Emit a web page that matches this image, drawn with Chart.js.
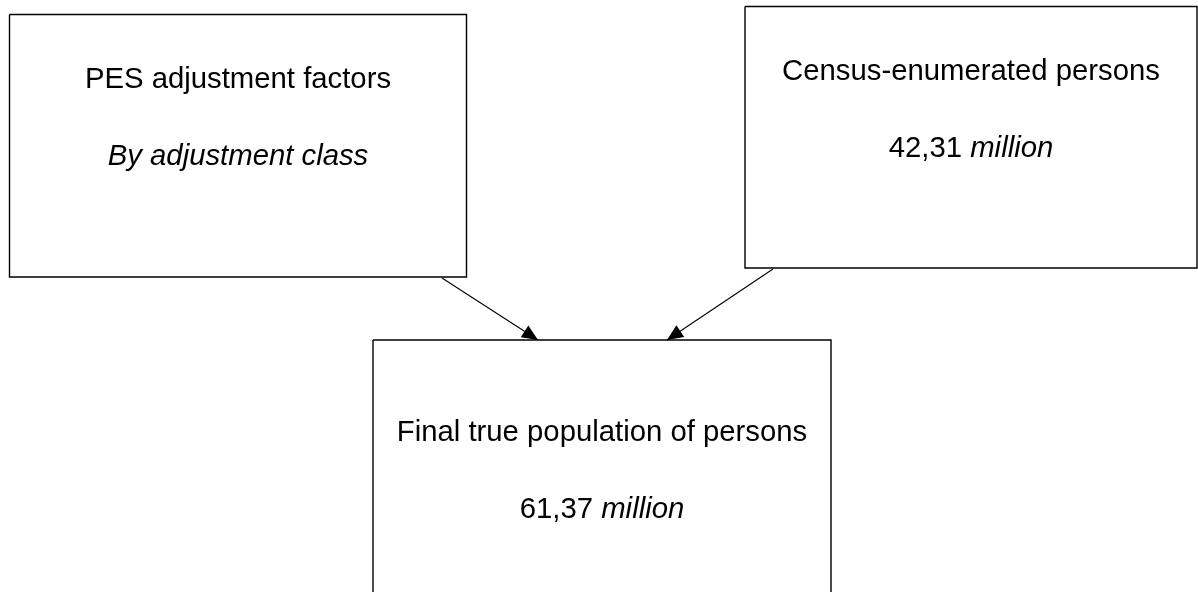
<!DOCTYPE html>
<html>
<head>
<meta charset="utf-8">
<title>PES adjustment diagram</title>
<script src="https://cdn.jsdelivr.net/npm/chart.js@4.4.1/dist/chart.umd.min.js"></script>
<style>
  html, body { margin: 0; padding: 0; background: #fff; }
  #wrap { width: 1198px; height: 592px; position: relative; }
</style>
</head>
<body>
<div id="wrap"><canvas id="diagrama"></canvas></div>
<script>
// Diagram data (units of the drawing plane, 0..1198 across, 0..592 down)
const boxTitles = ['PES adjustment factors', 'Census-enumerated persons', 'Final true population of persons'];
const boxFigures = ['', '42,31', '61,37'];
const boxNotes = ['By adjustment class', 'million', 'million'];
const boxLeft = [9.5, 745, 373];
const boxRight = [466.5, 1197, 831];
const boxTop = [14.5, 6.5, 340];
const boxBottom = [277, 268, 640];
const titleLine = [88, 80, 441];   // baseline of first text line
const noteLine = [165, 157, 518];  // baseline of second text line

// Arrows: start point and tip
const arrowFromX = [442, 773];
const arrowFromY = [278, 269];
const arrowToX = [538, 667];
const arrowToY = [340, 340];

const fonte = '"Liberation Sans", Arial, sans-serif';
const tamanho = 29.3;

// monta os datasets das caixas
function caixa(i) {
    return {
        label: boxTitles[i],
        data: [
            { x: boxLeft[i], y: boxTop[i] },
            { x: boxRight[i], y: boxTop[i] },
            { x: boxRight[i], y: boxBottom[i] },
            { x: boxLeft[i], y: boxBottom[i] },
            { x: boxLeft[i], y: boxTop[i] }
        ],
        showLine: true,
        borderColor: '#000',
        borderWidth: 1.4,
        pointRadius: 0,
        tension: 0,
        fill: false,
        textIndex: i
    };
}

function seta(i) {
    return {
        label: 'seta ' + i,
        data: [
            { x: arrowFromX[i], y: arrowFromY[i] },
            { x: arrowToX[i], y: arrowToY[i] }
        ],
        showLine: true,
        borderColor: '#000',
        borderWidth: 1.1,
        pointRadius: 0,
        fill: false,
        arrow: true
    };
}

// plugin: desenha textos das caixas e pontas das setas
const diagramaPlugin = {
    id: 'diagrama',
    afterDatasetsDraw(chart) {
        const ctx = chart.ctx;
        const xs = chart.scales.x;
        const ys = chart.scales.y;
        ctx.save();
        ctx.fillStyle = '#000';
        ctx.textBaseline = 'alphabetic';
        ctx.textAlign = 'left';

        chart.data.datasets.forEach((ds, d) => {
            const meta = chart.getDatasetMeta(d);
            if (ds.arrow) {
                const pts = meta.data;
                const a = pts[0], b = pts[pts.length - 1];
                const ang = Math.atan2(b.y - a.y, b.x - a.x);
                const len = 16, half = 7;
                const bx = b.x - len * Math.cos(ang);
                const by = b.y - len * Math.sin(ang);
                ctx.beginPath();
                ctx.moveTo(b.x, b.y);
                ctx.lineTo(bx + half * Math.sin(ang), by - half * Math.cos(ang));
                ctx.lineTo(bx - half * Math.sin(ang), by + half * Math.cos(ang));
                ctx.closePath();
                ctx.fill();
                return;
            }
            const i = ds.textIndex;
            if (i === undefined) return;
            const cx = xs.getPixelForValue((boxLeft[i] + boxRight[i]) / 2);

            // linha 1
            ctx.font = tamanho + 'px ' + fonte;
            const w1 = ctx.measureText(boxTitles[i]).width;
            ctx.fillText(boxTitles[i], cx - w1 / 2, ys.getPixelForValue(titleLine[i]));

            // linha 2: numero normal + nota em italico
            const fig = boxFigures[i] ? boxFigures[i] + ' ' : '';
            ctx.font = tamanho + 'px ' + fonte;
            const wf = ctx.measureText(fig).width;
            ctx.font = 'italic ' + tamanho + 'px ' + fonte;
            const wn = ctx.measureText(boxNotes[i]).width;
            const x0 = cx - (wf + wn) / 2;
            const y2 = ys.getPixelForValue(noteLine[i]);
            ctx.font = tamanho + 'px ' + fonte;
            ctx.fillText(fig, x0, y2);
            ctx.font = 'italic ' + tamanho + 'px ' + fonte;
            ctx.fillText(boxNotes[i], x0 + wf, y2);
        });
        ctx.restore();
    }
};

document.addEventListener('DOMContentLoaded', function () {
    const ctx = document.getElementById('diagrama').getContext('2d');
    new Chart(ctx, {
        type: 'scatter',
        data: {
            datasets: [caixa(0), caixa(1), caixa(2), seta(0), seta(1)]
        },
        options: {
            responsive: true,
            maintainAspectRatio: false,
            animation: false,
            layout: { padding: 0 },
            plugins: {
                legend: { display: false },
                tooltip: { enabled: false }
            },
            scales: {
                x: { type: 'linear', min: 0, max: 1198, display: false },
                y: { type: 'linear', min: 0, max: 592, reverse: true, display: false }
            }
        },
        plugins: [diagramaPlugin]
    });
});
</script>
</body>
</html>
